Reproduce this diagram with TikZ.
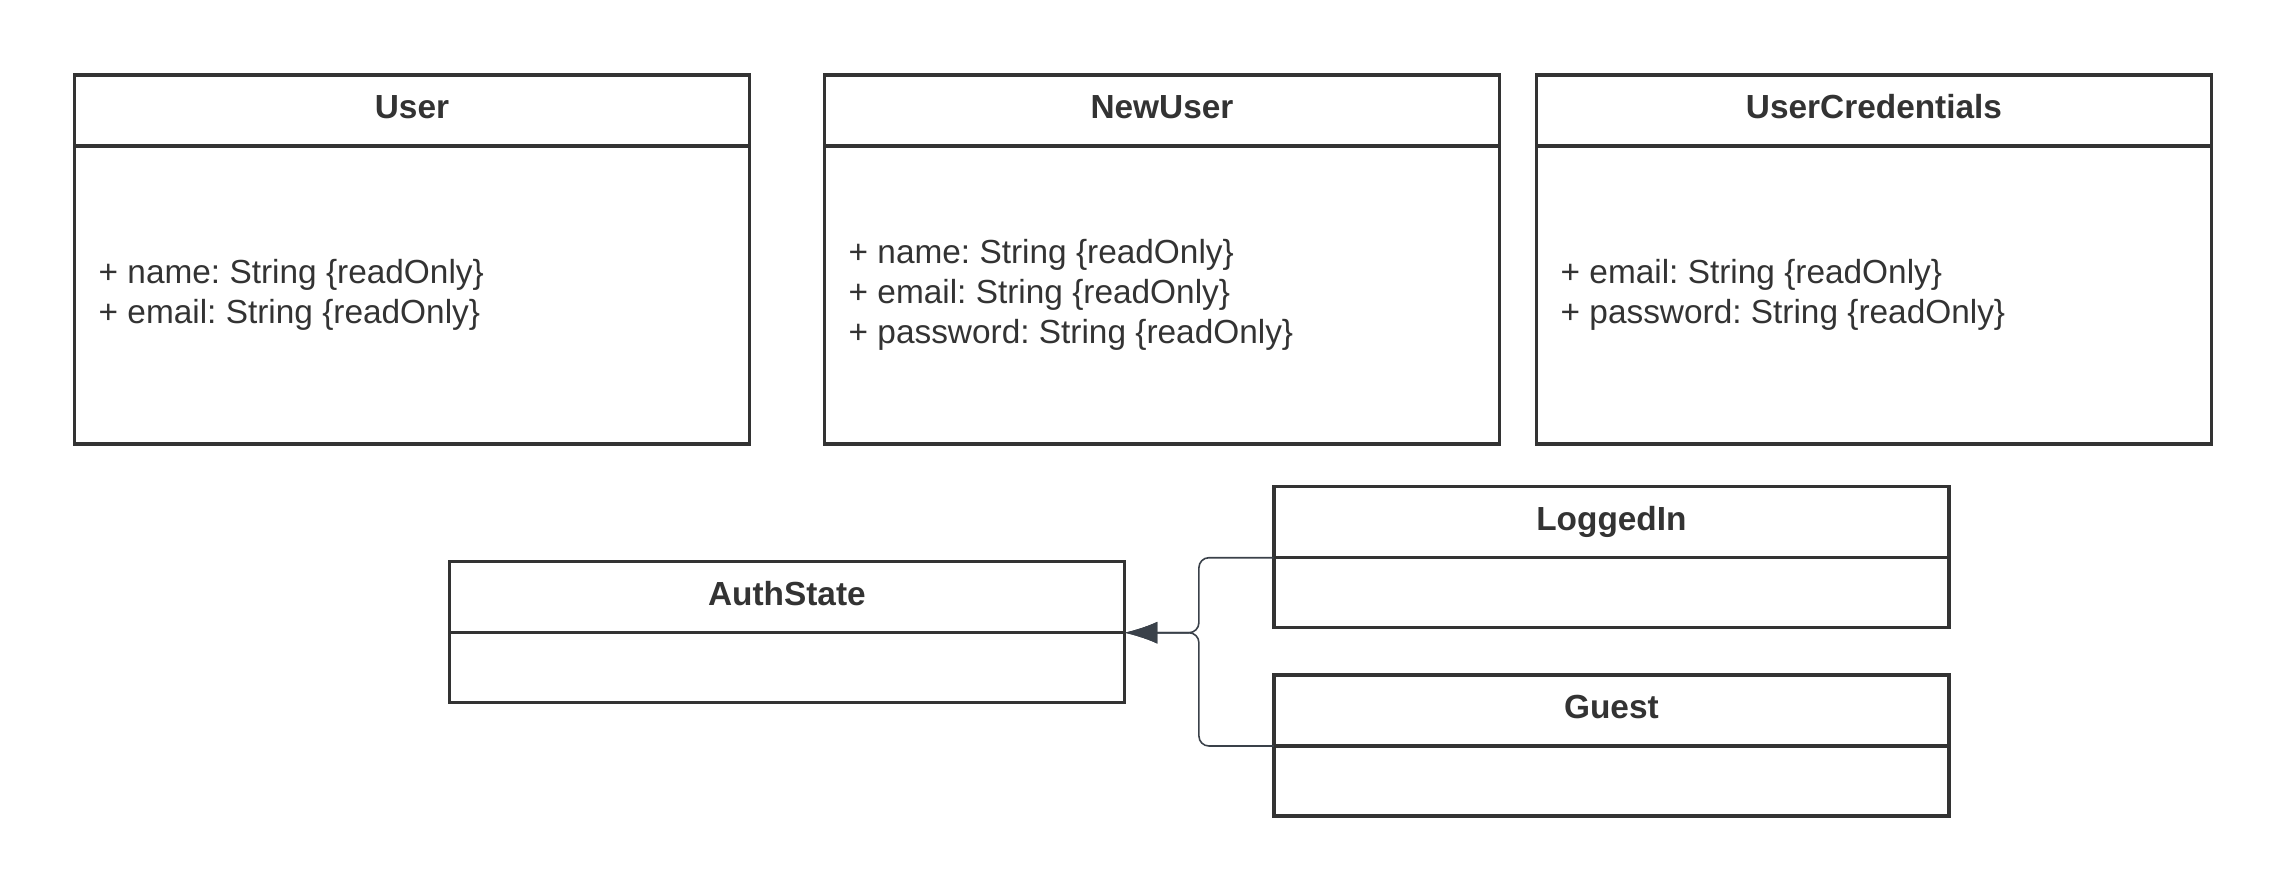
\documentclass[tikz,border=0pt]{standalone}
\usepackage{fontspec}
\setmainfont{Liberation Sans}
\usetikzlibrary{calc}
\usetikzlibrary{positioning}
\usetikzlibrary{arrows.meta}
\definecolor{boxgray}{HTML}{333333}
\definecolor{linkgray}{HTML}{3A414A}
\tikzstyle{classhead} = [draw=boxgray, line width=0.95pt, minimum width=6.75cm, minimum height=0.71cm, inner sep=0, outer sep=0, anchor=north west, text=boxgray, text depth=0.21em, font=\fontsize{9.5}{11.4}\selectfont\bfseries]
\tikzstyle{classbody} = [draw=boxgray, line width=0.95pt, minimum width=6.75cm, minimum height=0.70cm, inner sep=0, outer sep=0]
\tikzstyle{tallbody} = [minimum height=2.98cm]
\tikzstyle{attrs} = [anchor=west, align=left, inner sep=0, text=boxgray, font=\fontsize{9.5}{11.4}\selectfont\frenchspacing]
\tikzstyle{inherit} = [draw=linkgray, line width=0.45pt, rounded corners=1mm]

\begin{document}
\begin{tikzpicture}
    \useasboundingbox (0,0) rectangle (22.88,-8.91);

    \node[classhead] (user_head) at (0.745,-0.75) {User};
    \node[classbody, tallbody, below=0pt of user_head] (user_body) {};
    \node[attrs] (user_attrs) at ($(user_body.west)+(0.235,0)$)
{+ name: String \{readOnly\}\\+ email: String \{readOnly\}};

    \node[classhead] (newuser_head) at ($(user_head.north east)+(0.75,0)$) {NewUser};
    \node[classbody, tallbody, below=0pt of newuser_head] (newuser_body) {};
    \node[attrs] (newuser_attrs) at ($(newuser_body.west)+(0.235,0)$)
{+ name: String \{readOnly\}\\+ email: String \{readOnly\}\\+ password: String \{readOnly\}};

    \node[classhead] (cred_head) at ($(newuser_head.north east)+(0.37,0)$) {UserCredentials};
    \node[classbody, tallbody, below=0pt of cred_head] (cred_body) {};
    \node[attrs] (cred_attrs) at ($(cred_body.west)+(0.235,0)$)
{+ email: String \{readOnly\}\\+ password: String \{readOnly\}};

    \node[classhead] (auth_head) at (4.494,-5.617) {AuthState};
    \node[classbody, below=0pt of auth_head] (auth_body) {};

    \node[classhead] (logged_head) at (12.739,-4.867) {LoggedIn};
    \node[classbody, below=0pt of logged_head] (logged_body) {};

    \node[classhead] (guest_head) at ($(logged_head.north west)+(0,-1.883)$) {Guest};
    \node[classbody, below=0pt of guest_head] (guest_body) {};

    \coordinate (fork) at ($(auth_head.south east)+(0.745,0)$);
    \draw[>={Latex[length=3.3mm,width=2.2mm]},->,inherit] (logged_head.south west) -| (fork) -- (auth_head.south east);
    \draw[>={Latex[length=3.3mm,width=2.2mm]},->,inherit] (guest_head.south west) -| (fork) -- (auth_head.south east);
\end{tikzpicture}
\end{document}
